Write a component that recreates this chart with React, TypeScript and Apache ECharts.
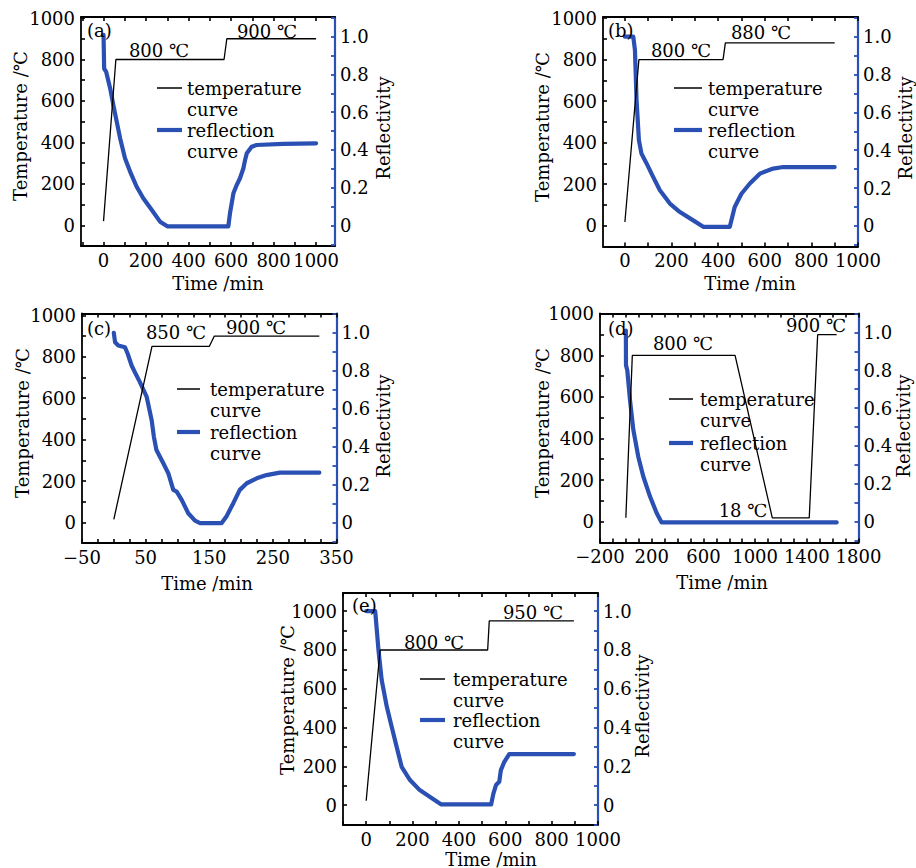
import React, { useEffect, useRef } from "react";
import * as echarts from "echarts";

// ---------- data ----------
const tempA = [[0, 20], [58, 800], [567, 800], [580, 900], [1000, 900]];
const reflA = [[0, 1.01], [3, 0.83], [12, 0.815], [31, 0.727], [46, 0.638], [62, 0.55], [78, 0.462], [101, 0.356], [125, 0.285], [156, 0.205], [187, 0.144], [227, 0.082], [266, 0.02], [300, -0.005], [587, -0.005], [595, 0.065], [611, 0.17], [627, 0.215], [642, 0.25], [658, 0.303], [666, 0.347], [674, 0.382], [697, 0.417], [720, 0.426], [846, 0.432], [1000, 0.435]];

const tempB = [[0, 18], [60, 800], [421, 800], [431, 880], [900, 880]];
const reflB = [[0, 1.0], [36, 1.0], [43, 0.93], [50, 0.665], [60, 0.453], [71, 0.382], [93, 0.33], [121, 0.259], [150, 0.188], [193, 0.118], [236, 0.073], [293, 0.029], [336, -0.005], [450, -0.005], [471, 0.1], [500, 0.17], [536, 0.224], [579, 0.276], [636, 0.303], [679, 0.311], [900, 0.311]];

const tempC = [[0, 15], [60, 850], [150, 850], [158, 900], [323, 900]];
const reflC = [[0, 1.0], [2, 0.95], [7, 0.933], [17.6, 0.924], [21.8, 0.89], [28, 0.828], [33, 0.793], [41, 0.74], [51.7, 0.662], [59.5, 0.539], [63, 0.452], [67, 0.382], [77.8, 0.312], [85.6, 0.26], [93.5, 0.172], [98.8, 0.163], [106.7, 0.119], [117, 0.049], [127.6, 0.01], [135.5, -0.003], [169.5, -0.003], [177, 0.032], [187.8, 0.102], [198, 0.172], [209, 0.207], [224.6, 0.233], [240, 0.25], [261, 0.263], [323, 0.263]];

const tempD = [[0, 18], [50, 800], [845, 800], [1133, 18], [1419, 18], [1484, 900], [1631, 900]];
const reflD = [[0, 1.01], [1, 0.827], [11, 0.8], [32, 0.643], [58, 0.484], [96, 0.343], [135, 0.238], [187, 0.132], [239, 0.044], [277, -0.005], [1631, -0.005]];

const tempE = [[0, 22], [60, 800], [524, 800], [531, 950], [896, 950]];
const reflE = [[0, 1.0], [39, 1.0], [46, 0.9], [53, 0.8], [67, 0.644], [89, 0.507], [110, 0.404], [131.6, 0.3], [153, 0.197], [189, 0.129], [231, 0.077], [274, 0.043], [324, 0.003], [539, 0.003], [549, 0.06], [560, 0.103], [574, 0.12], [581, 0.18], [596, 0.223], [617, 0.263], [896, 0.263]];

// tick labels
const xLabelsA = [0, 200, 400, 600, 800, 1000];
const xLabelsB = [0, 200, 400, 600, 800, 1000];
const xLabelsC = [-50, 50, 150, 250, 350];
const xLabelsD = [-200, 200, 600, 1000, 1400, 1800];
const xLabelsE = [0, 200, 400, 600, 800, 1000];
const tempLabels = [0, 200, 400, 600, 800, 1000];
const reflLabels = [0, 0.2, 0.4, 0.6, 0.8, 1.0];

const annotA = ["800 ℃", "900 ℃"];
const annotB = ["800 ℃", "880 ℃"];
const annotC = ["850 ℃", "900 ℃"];
const annotD = ["800 ℃", "900 ℃", "18 ℃"];
const annotE = ["800 ℃", "950 ℃"];

// ---------- layout / style ----------
const FONT = "'DejaVu Serif', 'Noto Sans CJK SC', serif";
const BLUE = "#2b50b4";
const FS = 18;

function range(a: number, b: number, step: number, lo: number, hi: number) {
  const out: number[] = [];
  for (let v = a; v <= b + 1e-9; v += step) {
    const r = Math.round(v * 1000) / 1000;
    if (r >= lo - 1e-9 && r <= hi + 1e-9) out.push(r);
  }
  return out;
}

const panels = [
  {
    tag: "(a)", temp: tempA, refl: reflA, xLabels: xLabelsA, xStep: 100, xStart: -100,
    grid: { left: 81, top: 17, width: 254, height: 229 }, x: [-106, 1089], yL: [-100, 1005], yR: [-0.109, 1.104],
    annot: annotA, annotPos: [[159, 50], [267, 31]], tagPos: [87, 30],
    leg: { x1: 157, x2: 182, tx: 187, y1: 88, y2: 130 },
    titles: { time: [218, 283], temp: [20, 126], refl: [383, 128] },
  },
  {
    tag: "(b)", temp: tempB, refl: reflB, xLabels: xLabelsB, xStep: 100, xStart: -100,
    grid: { left: 603, top: 17, width: 255, height: 229.5 }, x: [-94, 1000], yL: [-100, 1005], yR: [-0.109, 1.104],
    annot: annotB, annotPos: [[681, 50], [761, 32]], tagPos: [608, 30],
    leg: { x1: 674, x2: 702, tx: 708, y1: 88, y2: 130 },
    titles: { time: [750, 283], temp: [542, 127], refl: [905, 128] },
  },
  {
    tag: "(c)", temp: tempC, refl: reflC, xLabels: xLabelsC, xStep: 25, xStart: -50,
    grid: { left: 82, top: 313.5, width: 254.5, height: 229.5 }, x: [-50, 350], yL: [-99, 1009], yR: [-0.108, 1.102],
    annot: annotC, annotPos: [[176, 332], [256, 327]], tagPos: [87, 328],
    leg: { x1: 177, x2: 200, tx: 210, y1: 389, y2: 432 },
    titles: { time: [207, 583], temp: [22, 423], refl: [383, 426] },
  },
  {
    tag: "(d)", temp: tempD, refl: reflD, xLabels: xLabelsD, xStep: 100, xStart: -200,
    grid: { left: 600, top: 313.5, width: 258.5, height: 229 }, x: [-200, 1800], yL: [-101, 1002], yR: [-0.111, 1.1],
    annot: annotD, annotPos: [[683, 343], [816, 325], [743, 510]], tagPos: [608, 328],
    leg: { x1: 669, x2: 693, tx: 700, y1: 399, y2: 443 },
    titles: { time: [722, 582], temp: [542, 423], refl: [903, 426] },
  },
  {
    tag: "(e)", temp: tempE, refl: reflE, xLabels: xLabelsE, xStep: 100, xStart: -100,
    grid: { left: 343, top: 593, width: 255, height: 232 }, x: [-100, 1000], yL: [-103, 1094], yR: [-0.103, 1.094],
    annot: annotE, annotPos: [[434, 642], [533, 612]], tagPos: [352, 605],
    leg: { x1: 420, x2: 445, tx: 453, y1: 679, y2: 720 },
    titles: { time: [491, 859], temp: [287, 700], refl: [642, 706] },
  },
];

const signed = (v: number) => (v < 0 ? "\u2212" + Math.abs(v) : String(v));
const plain = (v: number) => String(v);
const refFmt = (v: number) => (Math.abs(v) < 1e-9 ? "0" : v.toFixed(1));

function buildOption() {
  const grid: any[] = [];
  const xAxis: any[] = [];
  const yAxis: any[] = [];
  const series: any[] = [];
  const graphic: any[] = [];

  panels.forEach((p, i) => {
    grid.push({ ...p.grid, containLabel: false, outerBoundsMode: "none" });
    const xTicks = range(p.xStart, p.x[1] + 200, p.xStep, p.x[0], p.x[1]);
    const base = {
      type: "value",
      gridIndex: i,
      min: p.x[0],
      max: p.x[1],
      splitLine: { show: false },
    };
    xAxis.push({
      ...base,
      position: "bottom",
      axisLine: { onZero: false, lineStyle: { color: "#000", width: 1.8 } },
      axisTick: { inside: true, length: 4, customValues: xTicks, lineStyle: { color: "#000", width: 1.6 } },
      axisLabel: {
        customValues: p.xLabels, formatter: signed, color: "#000", fontFamily: FONT, fontSize: FS,
        lineHeight: 18, margin: 5, hideOverlap: false, showMinLabel: true, showMaxLabel: true,
      },
    });
    xAxis.push({
      ...base,
      position: "top",
      axisLine: { onZero: false, lineStyle: { color: "#000", width: 1.8 } },
      axisTick: { inside: true, length: 4, customValues: xTicks, lineStyle: { color: "#000", width: 1.6 } },
      axisLabel: { show: false },
    });
    const yTicks = range(-100, 1100, 100, p.yL[0], p.yL[1]);
    yAxis.push({
      type: "value", gridIndex: i, position: "left", min: p.yL[0], max: p.yL[1],
      splitLine: { show: false },
      axisLine: { onZero: false, lineStyle: { color: "#000", width: 1.8 } },
      axisTick: { inside: true, length: 4, customValues: yTicks, lineStyle: { color: "#000", width: 1.6 } },
      axisLabel: {
        customValues: tempLabels, formatter: plain, color: "#000", fontFamily: FONT, fontSize: FS, margin: 6,
        hideOverlap: false, showMinLabel: true, showMaxLabel: true,
      },
    });
    const rTicks = range(-0.1, 1.1, 0.1, p.yR[0], p.yR[1]);
    yAxis.push({
      type: "value", gridIndex: i, position: "right", min: p.yR[0], max: p.yR[1],
      splitLine: { show: false },
      axisLine: { onZero: false, lineStyle: { color: BLUE, width: 2.2 } },
      axisTick: { inside: true, length: 4, customValues: rTicks, lineStyle: { color: BLUE, width: 1.8 } },
      axisLabel: {
        customValues: reflLabels, formatter: refFmt, color: "#000", fontFamily: FONT, fontSize: FS, margin: 5,
        hideOverlap: false, showMinLabel: true, showMaxLabel: true,
      },
    });

    series.push({
      name: "temperature curve " + p.tag,
      type: "line", xAxisIndex: 2 * i, yAxisIndex: 2 * i, data: p.temp,
      showSymbol: false, symbol: "none",
      lineStyle: { color: "#000", width: 1.3 }, z: 3,
    });
    series.push({
      name: "reflection curve " + p.tag,
      type: "line", xAxisIndex: 2 * i, yAxisIndex: 2 * i + 1, data: p.refl,
      showSymbol: false, symbol: "none",
      lineStyle: { color: BLUE, width: 4.2, join: "round", cap: "round" }, z: 2,
    });

    const txt = (s: string, x: number, y: number, extra: any = {}) => ({
      type: "text", x, y, z: 10,
      style: { text: s, fill: "#000", font: `${FS}px ${FONT}`, align: "center", verticalAlign: "middle", ...extra },
    });
    graphic.push(txt(p.tag, p.tagPos[0], p.tagPos[1], { align: "left" }));
    p.annot.forEach((s, k) => graphic.push(txt(s, p.annotPos[k][0], p.annotPos[k][1])));
    graphic.push(txt("Time /min", p.titles.time[0], p.titles.time[1], { lineHeight: 18 }));
    graphic.push({ ...txt("Temperature /℃", 0, 0), x: p.titles.temp[0], y: p.titles.temp[1], rotation: Math.PI / 2 });
    graphic.push({ ...txt("Reflectivity", 0, 0), x: p.titles.refl[0], y: p.titles.refl[1], rotation: Math.PI / 2 });

    // legend
    const L = p.leg;
    graphic.push({ type: "line", z: 10, shape: { x1: L.x1, y1: L.y1, x2: L.x2, y2: L.y1 }, style: { stroke: "#000", lineWidth: 1.5 } });
    graphic.push({ type: "line", z: 10, shape: { x1: L.x1, y1: L.y2, x2: L.x2, y2: L.y2 }, style: { stroke: BLUE, lineWidth: 4.2 } });
    graphic.push({
      type: "text", x: L.tx, y: L.y1 - 10.5, z: 10,
      style: { text: "temperature\ncurve", fill: "#000", font: `${FS}px ${FONT}`, lineHeight: 21, align: "left", verticalAlign: "top" },
    });
    graphic.push({
      type: "text", x: L.tx, y: L.y2 - 10.5, z: 10,
      style: { text: "reflection\ncurve", fill: "#000", font: `${FS}px ${FONT}`, lineHeight: 21, align: "left", verticalAlign: "top" },
    });
  });

  return { animation: false, backgroundColor: "#fff", grid, xAxis, yAxis, series, graphic };
}

export default function App() {
  const ref = useRef<HTMLDivElement>(null);
  useEffect(() => {
    document.body.style.margin = "0";
    if (!ref.current) return;
    const chart = echarts.init(ref.current, null, { renderer: "svg", width: 916, height: 868 });
    chart.setOption(buildOption() as any);
    return () => chart.dispose();
  }, []);
  return <div ref={ref} style={{ width: 916, height: 868 }} />;
}
